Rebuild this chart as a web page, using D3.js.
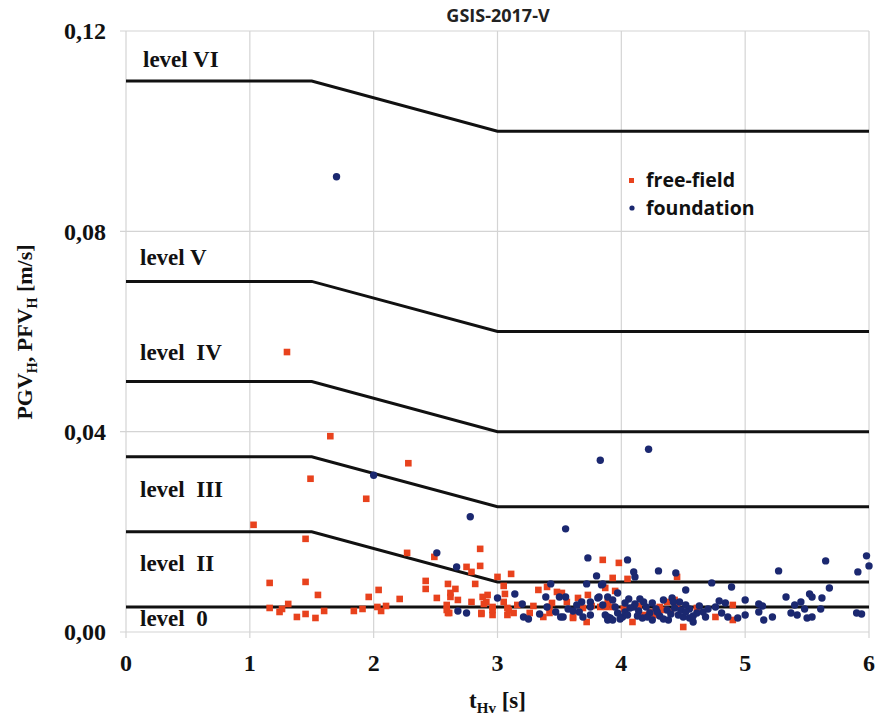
<!DOCTYPE html>
<html><head><meta charset="utf-8">
<script src="https://cdn.jsdelivr.net/npm/d3@7"></script>
<style>body{margin:0;background:#fff}svg{display:block}</style>
</head><body>
<script>
const title = "GSIS-2017-V";
const xTicks = [0,1,2,3,4,5,6];
const yTicks = [0,0.04,0.08,0.12];
const yTickLabels = ["0,00","0,04","0,08","0,12"];
// level boundary lines: value before t=1.5 s and after t=3 s
const levelBreaks = [0, 1.5, 3, 6];
const levelLines = [
  [0.005,0.005], [0.02,0.01], [0.035,0.025], [0.05,0.04], [0.07,0.06], [0.11,0.10]
];
const levelLabels = [
  {t:"level VI", y:0.1145}, {t:"level V", y:0.0749}, {t:"level  IV", y:0.0559},
  {t:"level  III", y:0.0285}, {t:"level  II", y:0.0138}, {t:"level  0", y:0.0028}
];
const freeField = [
[1.30,0.0559],[1.65,0.0391],[1.49,0.0306],[1.94,0.0266],[2.28,0.0337],[1.03,0.0214],[1.45,0.0186],
[1.16,0.0098],[1.45,0.0100],[1.55,0.0074],[1.96,0.0070],[1.16,0.0048],[1.24,0.0040],[1.26,0.0046],[1.31,0.0056],[1.38,0.0030],[1.45,0.0036],[1.53,0.0028],[1.60,0.0042],[1.84,0.0042],[1.91,0.0046],
[2.27,0.0158],[2.49,0.0150],[2.86,0.0166],[2.86,0.0132],[2.75,0.0130],[2.79,0.0120],[2.82,0.0096],[2.42,0.0102],[2.42,0.0086],[2.60,0.0096],[2.62,0.0078],[2.66,0.0086],[2.62,0.0070],[2.68,0.0064],[2.51,0.0068],[2.59,0.0054],[2.60,0.0038],[2.79,0.0060],[2.87,0.0038],[2.92,0.0074],[2.91,0.0060],[2.96,0.0050],[2.96,0.0034],[2.21,0.0066],[2.04,0.0084],[2.03,0.0050],[2.06,0.0042],[2.10,0.0052],
[2.88,0.0070],[2.89,0.0056],[2.96,0.0044],[2.59,0.0044],[2.61,0.0038],[2.87,0.0036],
[3.00,0.0110],[3.11,0.0116],[3.05,0.0092],[3.06,0.0076],[3.05,0.0060],[3.08,0.0048],[3.08,0.0034],[3.16,0.0054],[3.13,0.0038],[3.26,0.0038],[3.33,0.0084],[3.40,0.0090],[3.44,0.0058],[3.48,0.0080],[3.42,0.0038],[3.37,0.0030],[3.56,0.0060],[3.61,0.0028],[3.65,0.0068],[3.73,0.0074],[3.69,0.0048],[3.72,0.0020],[3.85,0.0144],[3.83,0.0050],[3.89,0.0060],
[3.52,0.0078],[3.87,0.0088],[3.95,0.0082],[3.76,0.0052],[3.29,0.0052],[3.09,0.0044],[3.42,0.0050],[3.61,0.0030],
[3.98,0.0138],[3.93,0.0108],[4.05,0.0106],[4.45,0.0110],[3.88,0.0050],[4.37,0.0060],[4.09,0.0020],[4.26,0.0034],[4.34,0.0044],[4.45,0.0054],[4.61,0.0048],[4.50,0.0010],[4.90,0.0054],[4.76,0.0030],[4.90,0.0024],[4.18,0.0034],
[4.31,0.0050],[4.43,0.0064],[4.23,0.0040],[3.93,0.0050],[4.02,0.0046],[4.14,0.0052],[4.40,0.0040]
];
const foundation = [
[1.70,0.0909],[3.83,0.0343],[4.22,0.0365],[2.00,0.0313],[2.78,0.0230],[3.55,0.0206],[2.51,0.0158],[2.67,0.0130],[3.73,0.0148],[3.80,0.0112],[3.72,0.0096],[3.85,0.0096],[3.43,0.0096],[3.14,0.0076],[3.00,0.0068],[3.39,0.0070],[3.50,0.0070],[3.55,0.0070],[3.68,0.0060],[3.75,0.0060],[3.82,0.0070],[2.68,0.0042],[2.75,0.0038],[3.20,0.0056],[3.21,0.0030],[3.25,0.0026],[3.34,0.0036],[3.40,0.0050],[3.51,0.0030],[3.53,0.0030],[3.57,0.0046],[3.61,0.0042],[3.64,0.0054],[3.69,0.0030],[3.75,0.0034],[3.87,0.0034],[3.89,0.0024],
[3.75,0.0050],[3.91,0.0028],[3.81,0.0068],[3.89,0.0070],
[5.98,0.0152],[6.00,0.0132],[5.65,0.0142],[5.91,0.0120],[5.27,0.0122],[5.68,0.0088],[5.62,0.0068],[5.52,0.0076],[5.54,0.0070],[5.45,0.0060],[5.33,0.0070],[5.40,0.0054],[5.61,0.0046],[5.48,0.0046],[5.37,0.0038],[5.42,0.0034],[5.50,0.0028],[5.54,0.0030],[5.90,0.0038],[5.94,0.0036],[5.11,0.0056],[5.14,0.0052],[5.11,0.0040],[5.15,0.0024],[5.22,0.0030],[5.00,0.0064],[5.00,0.0034],[4.89,0.0090],[4.73,0.0098],[4.84,0.0058],[4.76,0.0050],[4.86,0.0030],[4.94,0.0028],[4.81,0.0038],[4.66,0.0040],[4.61,0.0038],[4.52,0.0084],[4.44,0.0118],[4.30,0.0122],[4.10,0.0120],[4.11,0.0110],[4.05,0.0144],[3.97,0.0078],[4.06,0.0066],[4.11,0.0056],[4.18,0.0060],[4.25,0.0058],[4.34,0.0064],[4.41,0.0068],[4.47,0.0060],[4.52,0.0054],[4.55,0.0046],[4.58,0.0020],[3.89,0.0030],[3.93,0.0024],[3.97,0.0038],[4.01,0.0030],[4.03,0.0040],[4.10,0.0050],[4.17,0.0028],[4.23,0.0038],[4.25,0.0024],[4.31,0.0032],[4.37,0.0044],[4.38,0.0024],[4.42,0.0060],[4.46,0.0034],[4.50,0.0030],[4.55,0.0028],[3.85,0.0054],[3.84,0.0094],
[4.07,0.0048],[4.14,0.0042],[4.20,0.0050],[4.28,0.0046],[4.40,0.0036],[4.48,0.0044],[4.58,0.0032],[4.70,0.0046],[4.03,0.0058],
[3.95,0.0050],[3.99,0.0026],[4.05,0.0034],[4.13,0.0032],[4.21,0.0030],[4.29,0.0040],[4.34,0.0026],[4.43,0.0048],[4.52,0.0040],[4.63,0.0052],[4.68,0.0030],[4.79,0.0062],[3.93,0.0064],[4.15,0.0066],[3.66,0.0040],[3.47,0.0040]
];

const W = 878, H = 717;
const m = {l:126, r:9, t:31, b:85};
const svg = d3.select("body").append("svg").attr("width",W).attr("height",H);
const x = d3.scaleLinear().domain([0,6]).range([m.l, W-m.r]);
const y = d3.scaleLinear().domain([0,0.12]).range([H-m.b, m.t]);
const serif = "'Liberation Serif','Times New Roman',serif";
const sans = "'Open Sans','Liberation Sans',sans-serif";

// grid
const g = svg.append("g");
g.selectAll("line.v").data(xTicks).join("line")
  .attr("x1",d=>x(d)).attr("x2",d=>x(d)).attr("y1",y(0.12)).attr("y2",y(0)+6)
  .attr("stroke","#d4d4d4").attr("stroke-width",1.2);
g.selectAll("line.h").data(yTicks).join("line")
  .attr("y1",d=>y(d)).attr("y2",d=>y(d)).attr("x1",x(0)-6).attr("x2",x(6))
  .attr("stroke","#d4d4d4").attr("stroke-width",1.2);

// level lines
const line = d3.line().x(d=>x(d[0])).y(d=>y(d[1]));
svg.selectAll("path.lvl").data(levelLines).join("path")
  .attr("d", d => line([[levelBreaks[0],d[0]],[levelBreaks[1],d[0]],[levelBreaks[2],d[1]],[levelBreaks[3],d[1]]]))
  .attr("fill","none").attr("stroke","#111").attr("stroke-width",3);

// level labels
svg.selectAll("text.lvl").data(levelLabels).join("text")
  .attr("x", (d,i)=> i===0 ? x(0)+17 : x(0)+14).attr("y", d=>y(d.y))
  .attr("dy","0.35em").style("white-space","pre")
  .attr("font-family",serif).attr("font-weight","bold").attr("font-size",23)
  .attr("fill","#111").text(d=>d.t);

// points
svg.append("g").selectAll("rect").data(freeField).join("rect")
  .attr("x",d=>x(d[0])-3.3).attr("y",d=>y(d[1])-3.3).attr("width",6.6).attr("height",6.6)
  .attr("fill","#e8421d");
svg.append("g").selectAll("circle").data(foundation).join("circle")
  .attr("cx",d=>x(d[0])).attr("cy",d=>y(d[1])).attr("r",3.7)
  .attr("fill","#1b2870");

// ticks labels
svg.selectAll("text.yt").data(yTicks).join("text")
  .attr("x", x(0)-20).attr("y", d=>y(d)).attr("dy","0.35em").attr("text-anchor","end")
  .attr("font-family",serif).attr("font-weight","bold").attr("font-size",24).attr("fill","#111")
  .text((d,i)=>yTickLabels[i]);
svg.selectAll("text.xt").data(xTicks).join("text")
  .attr("x", d=>x(d)).attr("y", y(0)+31).attr("dy","0.35em").attr("text-anchor","middle")
  .attr("font-family",serif).attr("font-weight","bold").attr("font-size",24).attr("fill","#111")
  .text(d=>d);

// title
svg.append("text").attr("x",498).attr("y",16).attr("dy","0.35em").attr("text-anchor","middle")
  .attr("font-family",sans).attr("font-weight","bold").attr("font-size",18).attr("fill","#222").text(title);

// axis titles
const xt = svg.append("text").attr("x",(x(0)+x(6))/2).attr("y",700).attr("dy","0.35em").attr("text-anchor","middle")
  .attr("font-family",serif).attr("font-weight","bold").attr("font-size",23).attr("fill","#111");
xt.append("tspan").text("t");
xt.append("tspan").attr("font-size",15).attr("dy",5).text("Hv");
xt.append("tspan").attr("dy",-5).text(" [s]");

const yt = svg.append("text").attr("transform","translate(24,332) rotate(-90)").attr("dy","0.35em").attr("text-anchor","middle")
  .attr("font-family",serif).attr("font-weight","bold").attr("font-size",22).attr("fill","#111");
yt.append("tspan").text("PGV");
yt.append("tspan").attr("font-size",14).attr("dy",5).text("H");
yt.append("tspan").attr("dy",-5).text(", PFV");
yt.append("tspan").attr("font-size",14).attr("dy",5).text("H");
yt.append("tspan").attr("dy",-5).text(" [m/s]");

// legend
const lg = svg.append("g");
lg.append("rect").attr("x",629).attr("y",178).attr("width",5).attr("height",5).attr("fill","#e8421d");
lg.append("circle").attr("cx",632).attr("cy",208).attr("r",2.6).attr("fill","#1b2870");
lg.append("text").attr("x",646).attr("y",180).attr("dy","0.35em").attr("font-family",sans).attr("font-weight","bold")
  .attr("font-size",19.5).attr("fill","#111").text("free-field");
lg.append("text").attr("x",646).attr("y",208).attr("dy","0.35em").attr("font-family",sans).attr("font-weight","bold")
  .attr("font-size",19.5).attr("fill","#111").text("foundation");
</script>
</body></html>
